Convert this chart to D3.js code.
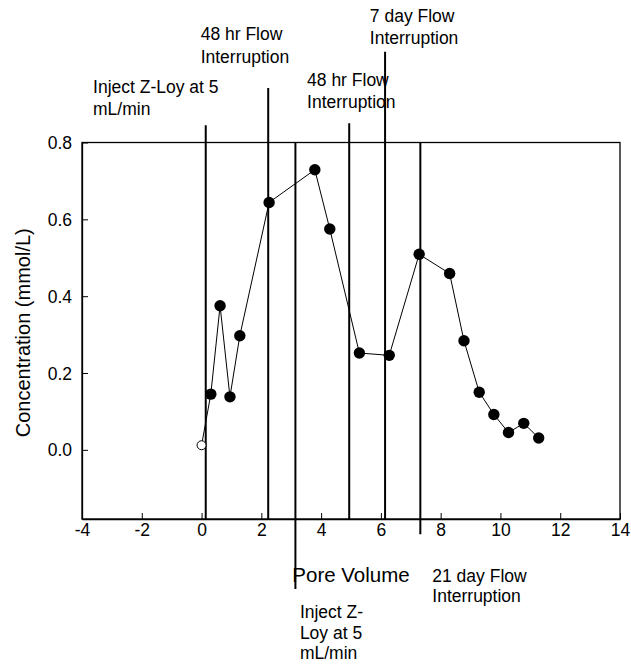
<!DOCTYPE html>
<html>
<head>
<meta charset="utf-8">
<script src="https://cdn.jsdelivr.net/npm/d3@7"></script>
<style>
  html, body { margin: 0; padding: 0; background: #fff; }
  svg { display: block; }
  text { font-family: "Liberation Sans", Arial, Helvetica, sans-serif; fill: #000; }
</style>
</head>
<body>
<svg id="chart" width="631" height="665"></svg>
<script>
// Pore volume (x) and effluent concentration (y) of the breakthrough curve
const poreVolume = [0.31, 0.62, 0.95, 1.28, 2.26, 3.79, 4.29, 5.28, 6.28, 7.28, 8.30, 8.78, 9.29, 9.78, 10.27, 10.78, 11.28];
const concentration = [0.145, 0.375, 0.138, 0.297, 0.644, 0.729, 0.575, 0.252, 0.246, 0.509, 0.459, 0.284, 0.150, 0.092, 0.045, 0.069, 0.031];

// Background sample taken before injection (open symbol)
const backgroundPV = [0.0];
const backgroundConc = [0.012];

// Axis ticks
const xTicks = [-4, -2, 0, 2, 4, 6, 8, 10, 12, 14];
const yTicks = [0.0, 0.2, 0.4, 0.6, 0.8];

// Event markers: pore volume and vertical extent (concentration units)
const eventPV = [0.14, 2.23, 3.14, 4.94, 6.14, 7.32];
const eventTop = [0.845, 0.942, 0.8, 0.85, 1.036, 0.8];
const eventBottom = [-0.18, -0.18, -0.362, -0.18, -0.18, -0.22];

// Event label text
const eventLabels = [
  ["Inject Z-Loy at 5", "mL/min"],
  ["48 hr Flow", "Interruption"],
  ["Inject Z-", "Loy at 5", "mL/min"],
  ["48 hr Flow", "Interruption"],
  ["7 day Flow", "Interruption"],
  ["21 day Flow", "Interruption"]
];

const svg = d3.select("#chart");
const margin = { left: 82, right: 11, top: 142.5, bottom: 146 };
const W = 631, H = 665;

const x = d3.scaleLinear().domain([-4, 14]).range([margin.left, W - margin.right]);
const y = d3.scaleLinear().domain([-0.18, 0.8]).range([H - margin.bottom, margin.top]);

// Label anchors (in pore volume / concentration units) and line spacing in px
const labelAnchor = [
  { px: -3.63, cy: 0.929, lh: 22 },
  { px: -0.03, cy: 1.068, lh: 23 },
  { px: 3.29, cy: -0.438, lh: 20.4 },
  { px: 3.53, cy: 0.947, lh: 22.3 },
  { px: 5.63, cy: 1.114, lh: 22.6 },
  { px: 7.72, cy: -0.345, lh: 19.6 }
];

// Frame
const x0 = x.range()[0], x1 = x.range()[1];
const yb = y.range()[0], yt = y.range()[1];
svg.append("rect")
  .attr("x", x0).attr("y", yt)
  .attr("width", x1 - x0).attr("height", yb - yt)
  .attr("fill", "none").attr("stroke", "#000").attr("stroke-width", 1.3);

// Bottom axis with inward ticks (plain hyphen for negatives)
const xAxis = svg.append("g")
  .attr("transform", `translate(0,${yb})`)
  .call(d3.axisBottom(x).tickValues(xTicks).tickSizeInner(-6).tickSizeOuter(0).tickPadding(0).tickFormat(d => String(d)));
xAxis.select(".domain").attr("stroke-width", 1.3);
xAxis.selectAll(".tick line").attr("stroke-width", 1);
xAxis.selectAll(".tick text")
  .attr("font-size", 17.5).attr("font-family", null)
  .attr("dy", null).attr("y", 16.7);

// Left axis with inward ticks
const yAxis = svg.append("g")
  .attr("transform", `translate(${x0},0)`)
  .call(d3.axisLeft(y).tickValues(yTicks).tickSizeInner(-6).tickSizeOuter(0).tickPadding(0).tickFormat(d => d.toFixed(1)));
yAxis.select(".domain").attr("stroke-width", 1.3);
yAxis.selectAll(".tick line").attr("stroke-width", 1);
yAxis.selectAll(".tick text")
  .attr("font-size", 17.5).attr("font-family", null)
  .attr("x", -10).attr("dy", "0.35em");

// Event marker lines
svg.append("g").selectAll("line")
  .data(eventPV)
  .join("line")
  .attr("x1", d => x(d)).attr("x2", d => x(d))
  .attr("y1", (d, i) => y(eventTop[i]))
  .attr("y2", (d, i) => y(eventBottom[i]))
  .attr("stroke", "#000").attr("stroke-width", 2);

// Event labels
const lab = svg.append("g").selectAll("text")
  .data(eventLabels)
  .join("text")
  .attr("font-size", 17.5)
  .attr("x", (d, i) => x(labelAnchor[i].px))
  .attr("y", (d, i) => y(labelAnchor[i].cy));
lab.each(function (lines, i) {
  d3.select(this).selectAll("tspan")
    .data(lines)
    .join("tspan")
    .attr("x", x(labelAnchor[i].px))
    .attr("dy", (t, j) => j === 0 ? 0 : labelAnchor[i].lh)
    .text(t => t);
});

// Connecting line (background point through the series)
const allPV = backgroundPV.concat(poreVolume);
const allConc = backgroundConc.concat(concentration);
const line = d3.line().x(d => x(d[0])).y(d => y(d[1]));
svg.append("path")
  .datum(allPV.map((v, i) => [v, allConc[i]]))
  .attr("d", line)
  .attr("fill", "none").attr("stroke", "#000").attr("stroke-width", 1);

// Background point (open circle)
svg.append("g").selectAll("circle")
  .data(backgroundPV)
  .join("circle")
  .attr("cx", d => x(d)).attr("cy", (d, i) => y(backgroundConc[i]))
  .attr("r", 4.5)
  .attr("fill", "#fff").attr("stroke", "#000").attr("stroke-width", 1);

// Measured concentrations (filled circles)
svg.append("g").selectAll("circle")
  .data(poreVolume)
  .join("circle")
  .attr("cx", d => x(d)).attr("cy", (d, i) => y(concentration[i]))
  .attr("r", 5.7)
  .attr("fill", "#000");

// Axis titles
svg.append("text")
  .attr("x", (x0 + x1) / 2).attr("y", 581.7)
  .attr("text-anchor", "middle").attr("font-size", 20.5)
  .text("Pore Volume");

svg.append("text")
  .attr("transform", `translate(30,${(yt + yb) / 2 + 2}) rotate(-90)`)
  .attr("text-anchor", "middle").attr("font-size", 20)
  .text("Concentration (mmol/L)");
</script>
</body>
</html>
